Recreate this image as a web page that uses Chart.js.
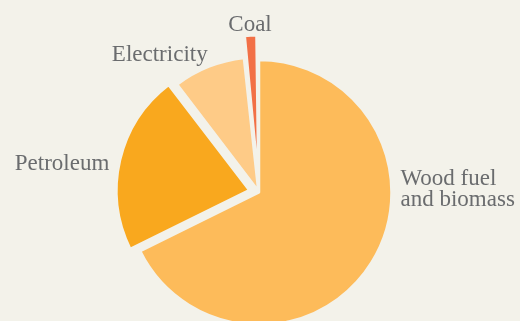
<!DOCTYPE html>
<html><head><meta charset="utf-8">
<style>
html,body{margin:0;padding:0;background:#f3f2ea;overflow:hidden;}
#wrap{position:relative;width:520px;height:321px;}
canvas{display:block;}
</style>
<script src="https://cdn.jsdelivr.net/npm/chart.js@4.4.1/dist/chart.umd.min.js"></script>
</head><body>
<div id="wrap"><canvas id="c" width="520" height="321"></canvas></div>
<script>
// ---- data ----
const categories = ['Wood fuel and biomass', 'Petroleum', 'Electricity', 'Coal'];
const labelLines = [['Wood fuel', 'and biomass'], ['Petroleum'], ['Electricity'], ['Coal']];
const shares = [67.7, 21.9, 8.7, 1.7];
const sliceColors = ['#FDBB5A', '#F9A81E', '#FECB87', '#F27046'];
const sliceOffsets = [0, 40, 8, 52];

const BG = '#f3f2ea';
const TEXT = '#6a6c6e';

const outsideLabels = {
  id: 'outsideLabels',
  afterDatasetsDraw(chart) {
    const meta = chart.getDatasetMeta(0);
    const ctx = chart.ctx;
    ctx.save();
    ctx.font = '23px "Liberation Serif", Georgia, serif';
    ctx.fillStyle = TEXT;
    ctx.textBaseline = 'middle';
    const lh = 20.6, gap = 11;
    meta.data.forEach((arc, i) => {
      const p = arc.getProps(['x', 'y', 'startAngle', 'endAngle', 'outerRadius', 'circumference']);
      const o = (arc.options.offset || 0) / 4;
      const fix = 1 - Math.sin(Math.min(Math.PI, p.circumference));
      const push = o * (1 + fix);
      let a = (p.startAngle + p.endAngle) / 2;
      const lines = labelLines[i];
      const d = p.outerRadius + push + gap;
      let lx = p.x + Math.cos(a) * d, ly = p.y + Math.sin(a) * d;
      const blockH = lines.length * lh;
      if (Math.sin(a) > 0.3) {
        // label of a slice pointing downwards: put it beside the pie
        a = Math.cos(a) >= 0 ? 0 : Math.PI;
        lx = p.x + Math.cos(a) * (p.outerRadius + push + gap - 2);
        ly = p.y - 3;
      } else if (Math.abs(Math.cos(a)) > 0.2) {
        // side labels: nudge toward the horizontal
        ly += Math.sin(a) < -0.5 ? -2 : 6;
        lx += Math.cos(a) < 0 && Math.sin(a) < -0.5 ? 3 : 0;
      }
      const c = Math.cos(a);
      ctx.textAlign = c > 0.2 ? 'left' : (c < -0.2 ? 'right' : 'center');
      lines.forEach((t, k) => {
        ctx.fillText(t, lx, ly - blockH / 2 + lh / 2 + k * lh);
      });
    });
    ctx.restore();
  }
};

new Chart(document.getElementById('c'), {
  type: 'pie',
  data: {
    labels: categories,
    datasets: [{
      data: shares,
      backgroundColor: sliceColors,
      borderColor: BG,
      borderWidth: 2.5,
      offset: sliceOffsets,
      hoverOffset: 0,
      radius: 132.5,
      clip: false
    }]
  },
  options: {
    responsive: false,
    animation: false,
    events: [],
    layout: { padding: { top: 64, right: 2, bottom: 0, left: 0 } },
    plugins: { legend: { display: false }, tooltip: { enabled: false } }
  },
  plugins: [outsideLabels]
});
</script>
</body></html>
